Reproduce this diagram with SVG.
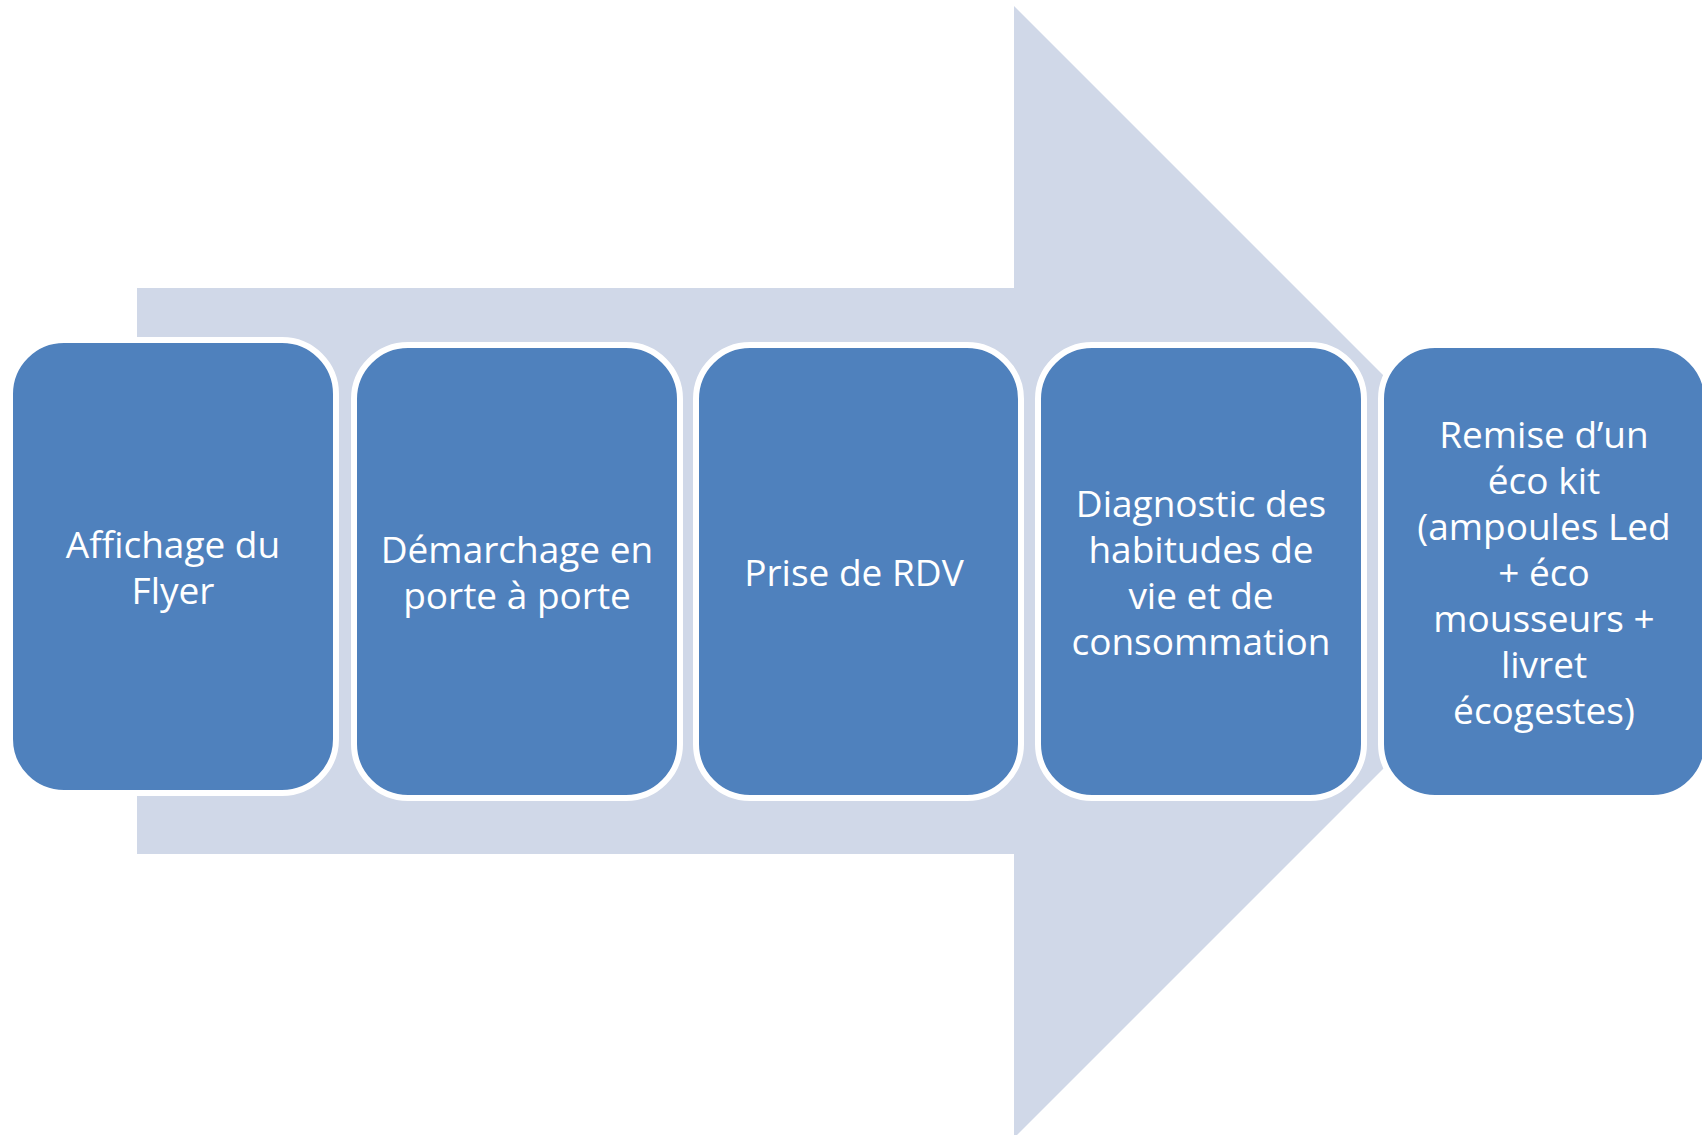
<svg xmlns="http://www.w3.org/2000/svg" width="1702" height="1135" viewBox="0 0 1702 1135">
<style>
.box{fill:#4F81BD;stroke:#FFFFFF;stroke-width:6}
.lbl{fill:#FFFFFF;font-family:"Open Sans","Noto Sans","Liberation Sans",sans-serif;font-size:37px;text-anchor:middle}
</style>
<rect x="0" y="0" width="1702" height="1135" fill="#FFFFFF"/>
<g id="arrow">
<polygon points="137,288 1014,288 1014,6 1580,572 1014,1138 1014,854 137,854" fill="#D0D8E8"/>
</g>
<g id="step1">
<rect class="box" x="10" y="340" width="326" height="453" rx="54" ry="54"/>
<text class="lbl" x="173"><tspan x="173" y="557.5">Affichage du</tspan><tspan x="173" y="603.5">Flyer</tspan></text>
</g>
<g id="step2">
<rect class="box" x="354" y="345" width="326" height="453" rx="54" ry="54"/>
<text class="lbl" x="517"><tspan x="517" y="562.5">Démarchage en</tspan><tspan x="517" y="608.5">porte à porte</tspan></text>
</g>
<g id="step3">
<rect class="box" x="696" y="345" width="325" height="453" rx="54" ry="54"/>
<text class="lbl" x="854" y="585.5">Prise de RDV</text>
</g>
<g id="step4">
<rect class="box" x="1038" y="345" width="326" height="453" rx="54" ry="54"/>
<text class="lbl" x="1201"><tspan x="1201" y="516.5">Diagnostic des</tspan><tspan x="1201" y="562.5">habitudes de</tspan><tspan x="1201" y="608.5">vie et de</tspan><tspan x="1201" y="654.5">consommation</tspan></text>
</g>
<g id="step5">
<rect class="box" x="1381" y="345" width="326" height="453" rx="54" ry="54"/>
<text class="lbl" x="1544"><tspan x="1544" y="447.5">Remise d’un</tspan><tspan x="1544" y="493.5">éco kit</tspan><tspan x="1544" y="539.5">(ampoules Led</tspan><tspan x="1544" y="585.5">+ éco</tspan><tspan x="1544" y="631.5">mousseurs +</tspan><tspan x="1544" y="677.5">livret</tspan><tspan x="1544" y="723.5">écogestes)</tspan></text>
</g>
<g id="connectors"></g>
</svg>
